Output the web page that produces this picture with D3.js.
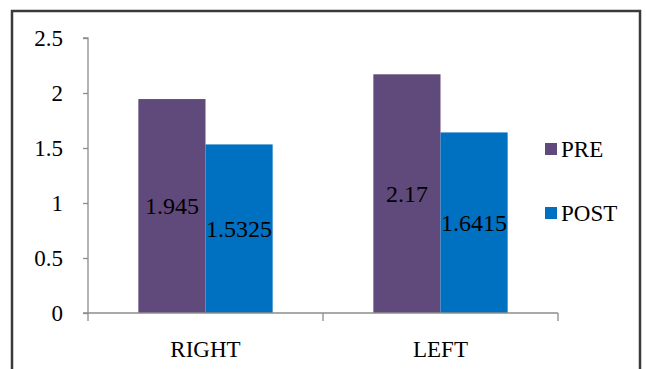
<!DOCTYPE html>
<html>
<head>
<meta charset="utf-8">
<script src="https://cdn.jsdelivr.net/npm/d3@7"></script>
<style>
  html, body { margin: 0; padding: 0; background: #fff; }
  svg { display: block; }
</style>
</head>
<body>
<svg id="chart" width="646" height="369"></svg>
<script>
// Mean scores before and after, per side
const categories = ["RIGHT", "LEFT"];
const seriesNames = ["PRE", "POST"];
const preValues = [1.945, 2.17];
const postValues = [1.5325, 1.6415];
const yTicks = [0, 0.5, 1, 1.5, 2, 2.5];
const colors = ["#604A7B", "#0070C0"];
const serif = "\"Liberation Serif\"";

const svg = d3.select("#chart");

// Outer frame (open at the bottom edge of the view)
svg.append("rect")
  .attr("x", 12).attr("y", 11)
  .attr("width", 628).attr("height", 380)
  .attr("fill", "none")
  .attr("stroke", "#3a3a3a")
  .attr("stroke-width", 2.5);

const plot = { left: 88, right: 558, top: 38, bottom: 313 };

const x0 = d3.scaleBand()
  .domain(categories)
  .range([plot.left, plot.right])
  .paddingInner(0).paddingOuter(0);

// bar width = band / (2 + 1.5) with 150% gap
const x1 = d3.scaleBand()
  .domain(seriesNames)
  .range([0, x0.bandwidth()])
  .paddingInner(0)
  .paddingOuter(0.75);

const y = d3.scaleLinear().domain([0, 2.5]).range([plot.bottom, plot.top]);

const rows = categories.map((c, i) => ({
  category: c,
  values: [
    { series: "PRE", value: preValues[i] },
    { series: "POST", value: postValues[i] }
  ]
}));

// Bars
const groups = svg.append("g").selectAll("g")
  .data(rows).join("g")
  .attr("transform", d => `translate(${x0(d.category)},0)`);

groups.selectAll("rect")
  .data(d => d.values).join("rect")
  .attr("x", d => x1(d.series))
  .attr("y", d => y(d.value))
  .attr("width", x1.bandwidth())
  .attr("height", d => y(0) - y(d.value))
  .attr("fill", (d, i) => colors[i]);

// Value labels centred inside bars
groups.selectAll("text")
  .data(d => d.values).join("text")
  .attr("x", d => x1(d.series) + x1.bandwidth() / 2)
  .attr("y", d => (y(d.value) + y(0)) / 2)
  .attr("text-anchor", "middle")
  .attr("dominant-baseline", "central")
  .style("font-family", serif)
  .style("font-size", "24px")
  .attr("fill", "#000")
  .text(d => d.value);

// Y axis
const yAxis = d3.axisLeft(y)
  .tickValues(yTicks)
  .tickFormat(d3.format("~g"))
  .tickSize(5)
  .tickPadding(20);

const gy = svg.append("g")
  .attr("transform", `translate(${plot.left},0)`)
  .call(yAxis);
gy.select(".domain").attr("stroke", "#8c8c8c").attr("stroke-width", 1.3)
  .attr("d", `M-5,${plot.top}H0V${plot.bottom}`);
gy.selectAll(".tick line").attr("stroke", "#8c8c8c").attr("stroke-width", 1.3);
gy.selectAll(".tick text")
  .style("font-family", serif)
  .style("font-size", "23px")
  .attr("fill", "#000");

// X axis with tick marks at category boundaries
const gx = svg.append("g")
  .attr("transform", `translate(0,${plot.bottom})`);
gx.append("line")
  .attr("x1", plot.left - 5).attr("x2", plot.right)
  .attr("stroke", "#8c8c8c").attr("stroke-width", 1.3);
const boundaries = [plot.left, ...categories.map(c => x0(c) + x0.bandwidth())];
gx.selectAll("line.b")
  .data(boundaries).join("line")
  .attr("class", "b")
  .attr("x1", d => d).attr("x2", d => d)
  .attr("y1", 0).attr("y2", 8)
  .attr("stroke", "#8c8c8c").attr("stroke-width", 1.3);
gx.selectAll("text")
  .data(categories).join("text")
  .attr("x", d => x0(d) + x0.bandwidth() / 2)
  .attr("y", 44)
  .attr("text-anchor", "middle")
  .style("font-family", serif)
  .style("font-size", "23px")
  .attr("fill", "#000")
  .text(d => d);

// Legend
const legend = svg.append("g")
  .selectAll("g")
  .data(seriesNames).join("g")
  .attr("transform", (d, i) => `translate(545,${149 + i * 64})`);
legend.append("rect")
  .attr("x", 0).attr("y", -6)
  .attr("width", 12).attr("height", 12)
  .attr("fill", (d, i) => colors[i]);
legend.append("text")
  .attr("x", 16).attr("y", 0)
  .attr("dominant-baseline", "central")
  .style("font-family", serif)
  .style("font-size", "23px")
  .attr("fill", "#000")
  .text(d => d);
</script>
</body>
</html>
